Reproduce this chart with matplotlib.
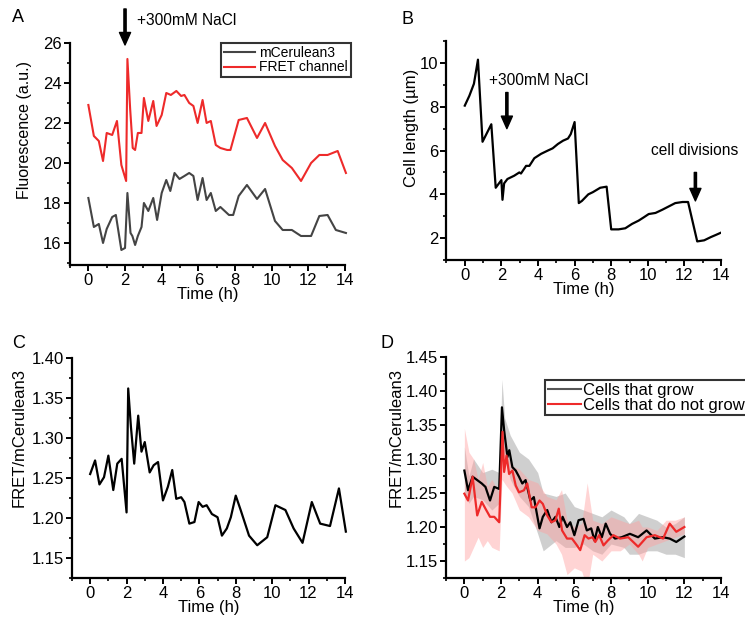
import matplotlib
matplotlib.use("Agg")
import matplotlib.pyplot as plt
from matplotlib.ticker import MultipleLocator

plt.rcParams['font.family'] = ['Liberation Sans', 'DejaVu Sans']
plt.rcParams['font.size'] = 12

# --- A: fluorescence
a_time = [0, 0.3, 0.57, 0.8, 1.0, 1.3, 1.5, 1.8, 2.0, 2.13, 2.3, 2.4, 2.55, 2.7, 2.9,
          3.03, 3.27, 3.54, 3.75, 4.0, 4.25, 4.47, 4.7, 4.97, 5.24, 5.5, 5.73, 5.96,
          6.23, 6.45, 6.68, 6.95, 7.2, 7.67, 7.9, 8.2, 8.65, 9.2, 9.64, 10.18, 10.6,
          11.1, 11.6, 12.15, 12.6, 13.05, 13.5, 14.05]
cerulean = [18.25, 16.8, 16.95, 16.0, 16.7, 17.3, 17.4, 15.65, 15.75, 18.5, 16.5, 16.35,
            15.9, 16.35, 16.8, 18.0, 17.6, 18.25, 17.15, 18.5, 19.15, 18.6, 19.5, 19.2,
            19.35, 19.5, 19.35, 18.15, 19.25, 18.15, 18.5, 17.6, 17.8, 17.4, 17.4, 18.35,
            18.9, 18.2, 18.7, 17.1, 16.65, 16.65, 16.35, 16.35, 17.35, 17.4, 16.65, 16.5]
a_time_fret = [0, 0.3, 0.57, 0.8, 1.0, 1.3, 1.56, 1.8, 2.06, 2.13, 2.28, 2.42, 2.55, 2.7,
               2.9, 3.03, 3.27, 3.54, 3.72, 4.0, 4.25, 4.5, 4.8, 5.06, 5.24, 5.5, 5.73,
               5.96, 6.23, 6.45, 6.68, 6.95, 7.2, 7.57, 7.75, 8.2, 8.65, 9.2, 9.64, 10.18,
               10.6, 11.1, 11.6, 12.15, 12.6, 13.05, 13.6, 14.05]
fret = [22.9, 21.35, 21.1, 20.1, 21.5, 21.4, 22.1, 19.9, 19.1, 25.2, 22.7, 20.75, 20.65,
        21.5, 21.5, 23.25, 22.1, 23.1, 21.85, 22.4, 23.5, 23.4, 23.6, 23.35, 23.4, 23.0,
        22.85, 22.0, 23.15, 22.0, 22.1, 20.9, 20.75, 20.65, 20.65, 22.15, 22.25, 21.25,
        22.0, 20.85, 20.15, 19.75, 19.1, 20.0, 20.4, 20.4, 20.6, 19.5]

# --- B: cell length
b_time = [0, 0.25, 0.5, 0.72, 0.97, 1.45, 1.69, 2.0, 2.06, 2.15, 2.33, 2.7, 2.98, 3.07,
          3.35, 3.53, 3.8, 4.17, 4.54, 4.8, 5.09, 5.37, 5.64, 5.79, 6.0, 6.23, 6.4, 6.75,
          7.0, 7.4, 7.75, 8.0, 8.4, 8.77, 9.14, 9.5, 9.78, 10.05, 10.42, 10.8, 11.15,
          11.5, 11.9, 12.2, 12.7, 13.08, 13.45, 13.73, 14.0]
cell_length = [8.05, 8.5, 9.05, 10.15, 6.4, 7.2, 4.3, 4.65, 3.75, 4.5, 4.7, 4.85, 5.0,
               4.95, 5.3, 5.3, 5.65, 5.85, 6.0, 6.1, 6.3, 6.45, 6.55, 6.75, 7.3, 3.6,
               3.7, 4.0, 4.1, 4.3, 4.35, 2.4, 2.4, 2.45, 2.65, 2.8, 2.95, 3.1, 3.15, 3.3,
               3.45, 3.6, 3.65, 3.65, 1.85, 1.9, 2.05, 2.15, 2.25]

# --- C: FRET ratio, single cell
c_time = [0, 0.27, 0.51, 0.76, 1.0, 1.27, 1.49, 1.73, 2.0, 2.09, 2.24, 2.42, 2.64, 2.82,
          3.0, 3.27, 3.49, 3.73, 4.0, 4.27, 4.51, 4.73, 5.0, 5.18, 5.45, 5.73, 5.96,
          6.18, 6.4, 6.69, 7.0, 7.24, 7.51, 7.73, 8.0, 8.27, 8.73, 9.18, 9.73, 10.18,
          10.73, 11.18, 11.67, 12.18, 12.64, 13.18, 13.67, 14.05]
c_ratio = [1.255, 1.272, 1.242, 1.251, 1.278, 1.235, 1.268, 1.274, 1.207, 1.362, 1.314,
           1.268, 1.328, 1.283, 1.295, 1.257, 1.266, 1.27, 1.222, 1.239, 1.26, 1.224,
           1.226, 1.22, 1.193, 1.195, 1.22, 1.214, 1.216, 1.205, 1.201, 1.178, 1.187,
           1.201, 1.228, 1.21, 1.178, 1.166, 1.176, 1.216, 1.21, 1.187, 1.169, 1.22,
           1.193, 1.19, 1.237, 1.183]

# --- D: population means
d_time_grow = [0, 0.2, 0.45, 0.7, 0.95, 1.15, 1.4, 1.63, 1.9, 2.05, 2.17, 2.35, 2.45,
               2.62, 2.8, 2.98, 3.16, 3.34, 3.6, 3.79, 4.1, 4.28, 4.52, 4.75, 4.97, 5.18,
               5.36, 5.6, 5.78, 6.0, 6.23, 6.5, 6.68, 6.92, 7.1, 7.28, 7.5, 7.71, 7.95,
               8.22, 8.58, 9.03, 9.48, 9.94, 10.39, 10.84, 11.2, 11.56, 12.0]
grow = [1.283, 1.254, 1.274, 1.269, 1.264, 1.259, 1.239, 1.259, 1.256, 1.376, 1.342,
        1.303, 1.313, 1.288, 1.283, 1.274, 1.264, 1.269, 1.239, 1.244, 1.198, 1.215,
        1.225, 1.207, 1.215, 1.2, 1.215, 1.2, 1.207, 1.188, 1.21, 1.212, 1.195, 1.198,
        1.18, 1.2, 1.185, 1.205, 1.19, 1.183, 1.185, 1.19, 1.185, 1.195, 1.183, 1.185,
        1.183, 1.178, 1.186]
d_time_nogrow = [0, 0.2, 0.45, 0.7, 0.95, 1.15, 1.4, 1.63, 1.9, 2.08, 2.17, 2.3, 2.44,
                 2.62, 2.8, 2.98, 3.25, 3.43, 3.67, 3.88, 4.1, 4.28, 4.52, 4.75, 4.97,
                 5.15, 5.33, 5.6, 5.87, 6.09, 6.32, 6.56, 6.77, 6.99, 7.14, 7.35, 7.59,
                 7.82, 8.13, 8.49, 8.94, 9.48, 9.94, 10.39, 10.84, 11.2, 11.56, 12.0]
nogrow = [1.249, 1.239, 1.274, 1.217, 1.237, 1.227, 1.215, 1.215, 1.207, 1.34, 1.281,
          1.305, 1.278, 1.283, 1.261, 1.251, 1.254, 1.264, 1.229, 1.229, 1.239, 1.234,
          1.217, 1.207, 1.21, 1.227, 1.195, 1.183, 1.183, 1.175, 1.166, 1.188, 1.183,
          1.185, 1.178, 1.188, 1.173, 1.18, 1.188, 1.183, 1.185, 1.171, 1.185, 1.188,
          1.183, 1.205, 1.193, 1.2]

band_time_grow = [0, 0.25, 0.5, 1.0, 1.5, 1.9, 2.05, 2.2, 2.5, 3.0, 3.5, 4.0, 4.3, 5.0,
                  5.5, 6.0, 6.5, 7.0, 7.5, 8.0, 8.7, 9.0, 9.5, 10.0, 10.5, 11.0, 11.5, 12.0]
grow_hi = [1.318, 1.275, 1.30, 1.28, 1.285, 1.28, 1.417, 1.36, 1.335, 1.31, 1.30, 1.28,
           1.25, 1.245, 1.25, 1.23, 1.225, 1.22, 1.215, 1.225, 1.215, 1.205, 1.22, 1.215,
           1.21, 1.20, 1.205, 1.215]
grow_lo = [1.25, 1.235, 1.245, 1.24, 1.225, 1.235, 1.34, 1.30, 1.27, 1.245, 1.23, 1.19,
           1.165, 1.18, 1.17, 1.17, 1.175, 1.165, 1.16, 1.175, 1.17, 1.16, 1.16, 1.165,
           1.165, 1.16, 1.16, 1.155]
band_time_nogrow = [0, 0.25, 0.5, 0.75, 1.0, 1.25, 1.5, 1.9, 2.05, 2.3, 2.6, 3.0, 3.5,
                    4.0, 4.5, 5.0, 5.3, 5.6, 6.0, 6.4, 6.7, 7.0, 7.5, 8.0, 8.5, 9.0, 9.5,
                    9.7, 10.0, 10.5, 11.0, 11.5, 12.0]
nogrow_hi = [1.345, 1.31, 1.30, 1.27, 1.295, 1.26, 1.27, 1.25, 1.325, 1.31, 1.29, 1.285,
             1.27, 1.265, 1.245, 1.24, 1.255, 1.21, 1.20, 1.205, 1.265, 1.21, 1.205,
             1.215, 1.21, 1.205, 1.21, 1.20, 1.20, 1.195, 1.21, 1.21, 1.215]
nogrow_lo = [1.15, 1.155, 1.17, 1.185, 1.17, 1.18, 1.17, 1.165, 1.27, 1.26, 1.25, 1.225,
             1.215, 1.195, 1.19, 1.175, 1.16, 1.13, 1.14, 1.135, 1.11, 1.16, 1.15, 1.165,
             1.165, 1.175, 1.16, 1.15, 1.17, 1.175, 1.18, 1.185, 1.19]

GREY = '#444444'
RED = '#ee2a2a'

fig = plt.figure(figsize=(7.45, 6.2), dpi=100)
axA = fig.add_axes([0.0940, 0.5726, 0.3691, 0.3581])
axB = fig.add_axes([0.5993, 0.5806, 0.3685, 0.3532])
axC = fig.add_axes([0.0966, 0.0677, 0.3664, 0.3548])
axD = fig.add_axes([0.5987, 0.0677, 0.3691, 0.3565])


def style(ax, ymin, ymax, ymaj, ymin_step, ylabel, lab_xy, ylab_size=12):
    ax.set_xlim(-1, 14)
    ax.set_ylim(ymin, ymax)
    ax.xaxis.set_major_locator(MultipleLocator(2))
    ax.xaxis.set_minor_locator(MultipleLocator(1))
    ax.yaxis.set_major_locator(MultipleLocator(ymaj))
    ax.yaxis.set_minor_locator(MultipleLocator(ymin_step))
    for s in ['top', 'right']:
        ax.spines[s].set_visible(False)
    for s in ['left', 'bottom']:
        ax.spines[s].set_linewidth(1.6)
    ax.tick_params(which='major', direction='out', length=4, width=1.4, labelsize=12, pad=2)
    ax.tick_params(which='minor', direction='out', length=2.5, width=1.2)
    ax.set_xlabel('Time (h)', fontsize=12, labelpad=-1)
    ax.set_ylabel(ylabel, fontsize=ylab_size)
    # label sits a bit above the axis centre, as in the original figure
    ax.yaxis.set_label_coords(*lab_xy)


def arrow(ax, x, y0, y1):
    ax.annotate('', xy=(x, y1), xytext=(x, y0), annotation_clip=False,
                arrowprops=dict(facecolor='black', edgecolor='black', width=1.6,
                                headwidth=8, headlength=9, shrink=0))


# A
axA.plot(a_time, cerulean, color=GREY, lw=1.5, label='mCerulean3', clip_on=False)
axA.plot(a_time_fret, fret, color=RED, lw=1.5, label='FRET channel', clip_on=False)
style(axA, 14.9, 26, 2, 1, 'Fluorescence (a.u.)', (-0.14, 0.61), 11.5)
axA.set_yticks([16, 18, 20, 22, 24, 26])
leg = axA.legend(loc='upper right', bbox_to_anchor=(1.02, 1.0), fontsize=10,
                 frameon=True, fancybox=False, edgecolor='black', handlelength=2.2,
                 handletextpad=0.3, borderpad=0.2, labelspacing=0.05, borderaxespad=0)
leg.get_frame().set_linewidth(1.5)
arrow(axA, 2.0, 27.7, 25.9)
axA.text(2.65, 27.1, '+300mM NaCl', fontsize=11.2, va='center', ha='left', clip_on=False)

# B
axB.plot(b_time, cell_length, color='black', lw=1.6)
style(axB, 1, 11, 2, 1, 'Cell length (µm)', (-0.10, 0.605))
axB.set_yticks([2, 4, 6, 8, 10])
arrow(axB, 2.3, 8.65, 7.0)
axB.text(1.3, 9.2, '+300mM NaCl', fontsize=11.2, va='center', ha='left')
arrow(axB, 12.6, 5.0, 3.7)
axB.text(10.2, 6.0, 'cell divisions', fontsize=11.2, va='center', ha='left', clip_on=False)

# C
axC.plot(c_time, c_ratio, color='black', lw=1.6, clip_on=False)
style(axC, 1.125, 1.40, 0.05, 0.025, 'FRET/mCerulean3', (-0.165, 0.64))
axC.set_yticks([1.15, 1.20, 1.25, 1.30, 1.35, 1.40])
axC.set_yticklabels(['1.15', '1.20', '1.25', '1.30', '1.35', '1.40'])

# D
axD.fill_between(band_time_grow, grow_lo, grow_hi, color='#a8a8a8', alpha=0.55, lw=0)
axD.fill_between(band_time_nogrow, nogrow_lo, nogrow_hi, color='#ffa0a0', alpha=0.45, lw=0)
axD.plot(d_time_grow, grow, color='black', lw=1.6)
axD.plot(d_time_nogrow, nogrow, color=RED, lw=1.6)
style(axD, 1.125, 1.45, 0.05, 0.025, 'FRET/mCerulean3', (-0.153, 0.636))
axD.set_yticks([1.15, 1.20, 1.25, 1.30, 1.35, 1.40, 1.45])
axD.set_yticklabels(['1.15', '1.20', '1.25', '1.30', '1.35', '1.40', '1.45'])
hg, = axD.plot([], [], color='#555555', lw=1.5, label='Cells that grow')
hn, = axD.plot([], [], color=RED, lw=1.5, label='Cells that do not grow')
legD = axD.legend(handles=[hg, hn], loc='upper left', bbox_to_anchor=(0.36, 0.895),
                  fontsize=12, frameon=True, fancybox=False, edgecolor='black',
                  handlelength=2.0, handletextpad=0.15, borderpad=0.15,
                  labelspacing=0.0, borderaxespad=0)
legD.get_frame().set_linewidth(1.5)

# panel letters
for lab, x, y in [('A', 12, 18), ('B', 402, 20), ('C', 12, 343), ('D', 381, 343)]:
    fig.text(x / 745, 1 - y / 620, lab, fontsize=13, va='center', ha='left')

fig.savefig('out.png', dpi=100)
